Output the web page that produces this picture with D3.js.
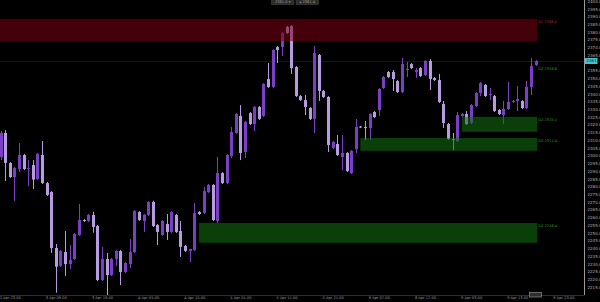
<!DOCTYPE html>
<html>
<head>
<meta charset="utf-8">
<script src="https://cdn.jsdelivr.net/npm/d3@7"></script>
<style>
  html, body { margin: 0; padding: 0; background: #000; overflow: hidden; }
  svg { display: block; }
  text { font-family: "DejaVu Sans", sans-serif; }
</style>
</head>
<body>
<div id="chart"><svg></svg></div>
<script>
/**
 * Hourly bars, oldest first
 */
var opens = [
  2299.1, 2314.6, 2295.2, 2286.1, 2291.3, 2300.4, 2291.3, 2293.9, 2284.8, 2300.4,
  2282.2, 2276.4, 2240.2, 2228.6, 2237.6, 2229.8, 2233.1, 2248.6, 2258.3, 2257.7,
  2261.6, 2254.4, 2219.5, 2233.1, 2222.7, 2233.1, 2238.3, 2224.7, 2229.8, 2237.6,
  2263.5, 2257.7, 2261.6, 2270.0, 2255.1, 2248.6, 2255.7, 2250.6, 2261.6, 2251.2,
  2241.5, 2238.3, 2238.9, 2263.5, 2262.9, 2276.4, 2281.0, 2257.7, 2288.7, 2282.2,
  2299.7, 2314.6, 2325.6, 2302.3, 2327.5, 2320.4, 2331.4, 2325.6, 2349.5, 2344.4,
  2370.2, 2370.2, 2383.2, 2383.8, 2357.3, 2338.5, 2335.9, 2330.8, 2323.7, 2365.1,
  2341.8, 2337.9, 2304.9, 2307.5, 2299.1, 2301.7, 2288.7, 2304.3, 2318.8, 2318.5,
  2317.8, 2328.2, 2329.5, 2343.7, 2354.1, 2354.1, 2348.2, 2341.1, 2355.4, 2359.2,
  2354.1, 2356.6, 2352.1, 2361.2, 2350.2, 2348.9, 2333.4, 2320.4, 2310.7, 2309.4,
  2325.6, 2326.9, 2321.1, 2332.1, 2340.5, 2345.7, 2339.2, 2338.5, 2329.5, 2326.2,
  2330.1, 2334.7, 2335.3, 2335.3, 2330.8, 2344.4, 2358.6
];
var highs = [
  2315.9, 2316.5, 2295.8, 2292.6, 2308.1, 2301.0, 2297.1, 2297.1, 2301.7, 2309.4,
  2282.9, 2277.1, 2242.8, 2238.9, 2251.2, 2242.1, 2249.9, 2268.7, 2259.0, 2262.2,
  2263.7, 2255.1, 2240.9, 2237.0, 2233.7, 2238.9, 2238.9, 2231.1, 2246.0, 2264.8,
  2264.1, 2262.2, 2270.6, 2270.8, 2255.7, 2258.3, 2262.2, 2264.1, 2262.2, 2257.7,
  2242.1, 2239.6, 2269.3, 2264.1, 2279.7, 2281.6, 2281.6, 2299.1, 2289.3, 2301.0,
  2318.5, 2327.5, 2332.7, 2322.4, 2328.2, 2332.1, 2332.1, 2346.9, 2359.9, 2368.9,
  2370.9, 2379.9, 2383.8, 2384.5, 2357.9, 2339.2, 2339.2, 2331.4, 2370.9, 2365.7,
  2342.4, 2338.5, 2309.4, 2313.3, 2313.3, 2302.3, 2303.6, 2323.7, 2319.1, 2322.4,
  2327.5, 2328.8, 2343.7, 2351.5, 2354.7, 2355.4, 2348.9, 2363.1, 2360.5, 2359.9,
  2356.6, 2357.3, 2361.8, 2362.5, 2350.8, 2352.8, 2335.3, 2321.1, 2314.6, 2328.2,
  2327.5, 2328.8, 2333.4, 2341.1, 2347.6, 2346.3, 2343.7, 2339.2, 2330.1, 2335.3,
  2347.6, 2335.9, 2345.0, 2335.9, 2348.2, 2363.1, 2361.8
];
var lows = [
  2297.1, 2283.5, 2285.5, 2270.6, 2289.3, 2290.6, 2280.3, 2278.4, 2284.2, 2281.6,
  2273.8, 2237.0, 2211.3, 2227.9, 2222.1, 2226.6, 2232.4, 2248.0, 2257.0, 2257.0,
  2250.1, 2218.8, 2218.8, 2209.8, 2222.1, 2228.6, 2216.2, 2224.0, 2227.3, 2237.0,
  2257.7, 2250.6, 2260.9, 2253.8, 2242.1, 2248.0, 2245.4, 2249.9, 2249.9, 2234.4,
  2237.6, 2231.1, 2238.3, 2261.6, 2262.2, 2275.8, 2257.7, 2256.4, 2281.6, 2281.6,
  2298.4, 2313.9, 2297.1, 2298.4, 2319.8, 2315.9, 2323.0, 2324.9, 2343.7, 2343.7,
  2359.9, 2364.4, 2378.7, 2352.8, 2337.9, 2335.3, 2326.2, 2323.0, 2314.6, 2335.3,
  2337.2, 2302.3, 2304.3, 2299.7, 2290.6, 2289.3, 2288.1, 2301.7, 2317.8, 2310.1,
  2310.1, 2324.3, 2325.6, 2343.1, 2350.2, 2341.8, 2340.5, 2340.5, 2350.8, 2356.0,
  2350.2, 2350.8, 2351.5, 2342.4, 2348.2, 2334.0, 2317.8, 2310.1, 2303.6, 2308.8,
  2324.9, 2319.8, 2320.4, 2331.4, 2338.5, 2337.9, 2335.9, 2328.2, 2326.2, 2320.4,
  2329.5, 2334.0, 2328.8, 2330.1, 2330.1, 2339.2, 2357.9
];
var closes = [
  2314.6, 2295.2, 2286.1, 2291.9, 2300.4, 2291.3, 2291.9, 2284.5, 2301.0, 2282.2,
  2274.5, 2240.2, 2228.1, 2238.3, 2229.8, 2232.4, 2249.3, 2258.3, 2257.7, 2261.6,
  2253.8, 2219.5, 2233.1, 2222.7, 2233.1, 2238.3, 2224.7, 2230.5, 2237.6, 2264.1,
  2258.3, 2261.6, 2270.0, 2254.4, 2250.6, 2257.7, 2250.6, 2263.5, 2250.6, 2240.9,
  2238.3, 2239.6, 2262.9, 2262.2, 2277.1, 2281.0, 2258.3, 2288.7, 2282.2, 2300.4,
  2315.2, 2326.9, 2301.7, 2321.7, 2320.4, 2331.4, 2323.7, 2346.3, 2344.4, 2368.3,
  2368.3, 2379.3, 2379.3, 2356.6, 2338.5, 2335.9, 2331.4, 2323.7, 2366.4, 2341.8,
  2337.9, 2306.8, 2308.8, 2300.4, 2301.7, 2290.0, 2303.0, 2318.5, 2318.5, 2317.8,
  2326.9, 2324.9, 2343.1, 2350.8, 2350.8, 2349.5, 2341.1, 2359.2, 2356.0, 2356.6,
  2355.4, 2351.5, 2361.2, 2349.5, 2348.9, 2334.7, 2321.1, 2310.7, 2310.1, 2326.2,
  2326.9, 2320.4, 2332.7, 2340.5, 2346.9, 2338.5, 2339.8, 2328.8, 2326.9, 2330.1,
  2334.7, 2335.3, 2336.6, 2330.8, 2344.4, 2357.9, 2361.2
];

/**
 * Zones: top price, bottom price, first bar, kind
 */
var zoneTops    = [2388.4, 2325.1, 2311.4, 2256.4];
var zoneBottoms = [2374.1, 2315.4, 2303.1, 2243.6];
var zoneStarts  = [-1, 100, 78, 43];
var zoneKinds   = ['supply', 'demand', 'demand', 'demand'];
var zoneNames   = ['SZ 2388.4', 'DZ 2325.1', 'DZ 2311.4', 'DZ 2256.4'];

// a level tag with no box drawn
var levelPrices = [2356.6];
var levelNames  = ['DZ 2356.6'];

var timeBars   = [2, 12, 22, 32, 42, 52, 62, 72, 82, 92, 102, 112, 122];
var timeLabels = ['2 Apr 23:00', '3 Apr 09:00', '3 Apr 19:00', '4 Apr 05:00',
                  '4 Apr 15:00', '5 Apr 01:00', '5 Apr 11:00', '5 Apr 21:00',
                  '8 Apr 07:00', '8 Apr 17:00', '9 Apr 03:00', '9 Apr 13:00',
                  '9 Apr 23:00'];
var priceTicks = d3.range(2215, 2401, 5);

/**
 * Constructor
 */
function CandleView(svgid, width, height){
    this.svgId = svgid;
    this.svgWidth  = width;
    this.svgHeight = height;
    this.plotRight  = 584.5;
    this.plotBottom = 295;
}

/**
 * Initialization
 */
CandleView.prototype.init = function(){
    this.svg = d3.select(this.svgId).select('svg')
        .attr('width', this.svgWidth)
        .attr('height', this.svgHeight)
        .style('background', '#000');

    this.x = d3.scaleLinear().domain([0, 116]).range([0.5, 535.7]);
    this.y = d3.scaleLinear().domain([2209.8, 2400.65]).range([this.plotBottom, 0]);

    this.svg.append('clipPath').attr('id', 'plotclip')
        .append('rect')
        .attr('x', 0).attr('y', 0)
        .attr('width', this.plotRight).attr('height', this.plotBottom);

    this.plot = this.svg.append('g').attr('clip-path', 'url(#plotclip)');
};

/**
 * Draw the view
 */
CandleView.prototype.update = function(){
    var x = this.x, y = this.y, self = this;
    var bars = d3.range(opens.length);
    var last = closes[closes.length - 1];

    // current price line, very faint
    this.plot.append('line')
        .attr('x1', 0).attr('x2', this.plotRight)
        .attr('y1', Math.round(y(last)) + 0.5).attr('y2', Math.round(y(last)) + 0.5)
        .attr('stroke', '#161616').attr('stroke-width', 1);

    var colour = function (i) { return closes[i] >= opens[i] ? '#7a3fc4' : '#b89ce2'; };

    this.plot.selectAll('line.wick').data(bars).enter()
        .append('line').attr('class', 'wick')
        .attr('x1', function (i) { return Math.round(x(i)) + 0.5; })
        .attr('x2', function (i) { return Math.round(x(i)) + 0.5; })
        .attr('y1', function (i) { return y(highs[i]); })
        .attr('y2', function (i) { return y(lows[i]); })
        .attr('stroke', colour).attr('stroke-width', 1);

    this.plot.selectAll('rect.body').data(bars).enter()
        .append('rect').attr('class', 'body')
        .attr('x', function (i) { return Math.round(x(i)) - 1; })
        .attr('width', 3)
        .attr('y', function (i) { return y(Math.max(opens[i], closes[i])); })
        .attr('height', function (i) { return Math.max(1, Math.abs(y(opens[i]) - y(closes[i]))); })
        .attr('fill', colour);

    // zones over the bars
    var zoneEnd = x(opens.length - 1) + 1.5;
    var zones = d3.range(zoneTops.length);
    this.plot.selectAll('rect.zone').data(zones).enter()
        .append('rect').attr('class', 'zone')
        .attr('x', function (i) { return zoneStarts[i] < 0 ? 0 : x(zoneStarts[i]); })
        .attr('width', function (i) { return zoneEnd - (zoneStarts[i] < 0 ? 0 : x(zoneStarts[i])); })
        .attr('y', function (i) { return y(zoneTops[i]); })
        .attr('height', function (i) { return y(zoneBottoms[i]) - y(zoneTops[i]); })
        .attr('fill', function (i) { return zoneKinds[i] === 'supply' ? '#7a0012' : '#137313'; })
        .attr('fill-opacity', 0.55);

    this.svg.selectAll('text.zlabel').data(zones).enter()
        .append('text').attr('class', 'zlabel')
        .attr('x', zoneEnd + 1)
        .attr('y', function (i) { return y(zoneTops[i]) + 4; })
        .attr('font-size', 3.6)
        .attr('fill', function (i) { return zoneKinds[i] === 'supply' ? '#a8242c' : '#2f9a2f'; })
        .text(function (i) { return zoneNames[i]; });

    this.svg.selectAll('text.llabel').data(levelPrices).enter()
        .append('text').attr('class', 'llabel')
        .attr('x', zoneEnd + 1)
        .attr('y', function (d) { return y(d) + 1.5; })
        .attr('font-size', 3.6)
        .attr('fill', '#2f9a2f')
        .text(function (d, i) { return levelNames[i]; });

    // price axis; the tick hidden behind the last price tag is dropped
    var yAxis = d3.axisRight(y)
        .tickValues(priceTicks.filter(function (p) { return Math.abs(y(p) - y(last)) > 5; }))
        .tickSize(0).tickPadding(3)
        .tickFormat(d3.format('.1f'));
    var ga = this.svg.append('g')
        .attr('transform', 'translate(' + this.plotRight + ',0)')
        .call(yAxis);
    ga.select('.domain').remove();
    ga.selectAll('text').attr('fill', '#b0b0b0').attr('font-size', 4)
        .attr('font-family', '"DejaVu Sans", sans-serif');
    this.svg.append('line')
        .attr('x1', this.plotRight).attr('x2', this.plotRight)
        .attr('y1', 0).attr('y2', this.plotBottom)
        .attr('stroke', '#9a9a9a').attr('stroke-width', 1);

    // last price tag
    this.svg.append('rect')
        .attr('x', this.plotRight + 0.5).attr('y', y(last) - 3)
        .attr('width', 12.5).attr('height', 6)
        .attr('fill', '#46c6cc');
    this.svg.append('text')
        .attr('x', this.plotRight + 2).attr('y', y(last) + 1.5)
        .attr('font-size', 4).attr('fill', '#06282a')
        .text(d3.format('.1f')(last));

    // time axis
    var xAxis = d3.axisBottom(x).tickValues(timeBars).tickSize(0).tickPadding(1.5)
        .tickFormat(function (d, i) { return timeLabels[i]; });
    var gx = this.svg.append('g')
        .attr('transform', 'translate(0,' + this.plotBottom + ')')
        .call(xAxis);
    gx.select('.domain').remove();
    gx.selectAll('text').attr('fill', '#9a9a9a').attr('font-size', 3.6)
        .attr('font-family', '"DejaVu Sans", sans-serif');
    this.svg.append('line')
        .attr('x1', 0).attr('x2', this.plotRight)
        .attr('y1', this.plotBottom + 0.5).attr('y2', this.plotBottom + 0.5)
        .attr('stroke', '#2e2e2e').attr('stroke-width', 1);

    // small panel buttons
    var btn = [[271.5, '2361.0 \u25BE'], [296, '\u25B4 2361.4']];
    btn.forEach(function (b) {
        self.svg.append('rect')
            .attr('x', b[0]).attr('y', -1).attr('width', 22.5).attr('height', 5.5)
            .attr('fill', '#2d2d2d').attr('stroke', '#4a4a4a').attr('stroke-width', 0.5);
        self.svg.append('text')
            .attr('x', b[0] + 11.25).attr('y', 3.2).attr('text-anchor', 'middle')
            .attr('font-size', 3.6).attr('fill', '#9a9a9a').text(b[1]);
    });
    this.svg.append('rect')
        .attr('x', 529.5).attr('y', 292.5).attr('width', 12).attr('height', 4.5)
        .attr('fill', '#303030').attr('stroke', '#a0a0a0').attr('stroke-width', 0.6);
};

var view = new CandleView('#chart', 600, 302);
view.init();
view.update();
</script>
</body>
</html>
